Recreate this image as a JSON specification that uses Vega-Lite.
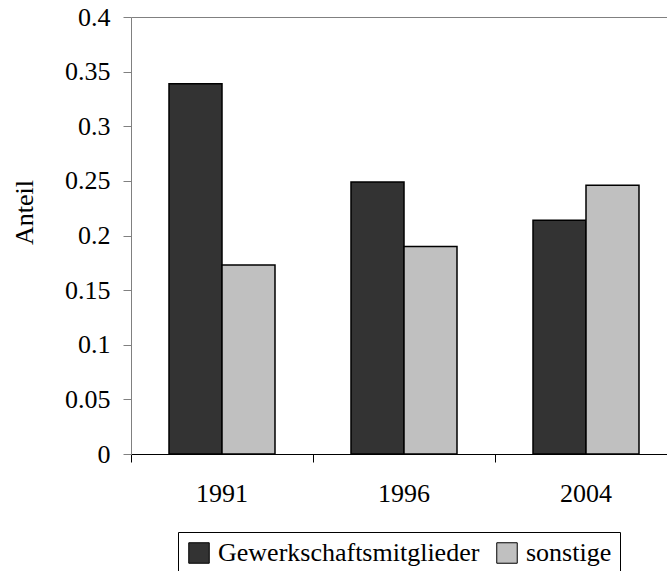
{
  "$schema": "https://vega.github.io/schema/vega-lite/v6.json",
  "width": 536,
  "height": 437,
  "autosize": {"type": "none"},
  "padding": {"left": 131, "top": 17, "right": 0, "bottom": 117},
  "background": "white",
  "config": {"view": {"stroke": null}, "font": "Liberation Serif"},
  "data": {"values": [
    {"year": "1991", "group": "Gewerkschaftsmitglieder", "value": 0.339},
    {"year": "1991", "group": "sonstige", "value": 0.173},
    {"year": "1996", "group": "Gewerkschaftsmitglieder", "value": 0.249},
    {"year": "1996", "group": "sonstige", "value": 0.19},
    {"year": "2004", "group": "Gewerkschaftsmitglieder", "value": 0.214},
    {"year": "2004", "group": "sonstige", "value": 0.246}
  ]},
  "mark": {"type": "bar", "stroke": "black", "strokeWidth": 1.5},
  "encoding": {
    "x": {
      "field": "year", "type": "nominal",
      "scale": {"range": [0, 546], "paddingInner": 0, "paddingOuter": 0},
      "axis": {"title": null, "labelAngle": 0, "bandPosition": 0,
        "labelFont": "Liberation Serif", "labelFontSize": 26, "labelColor": "black", "domainColor": "black", "tickColor": "black",
        "tickSize": 8, "labelPadding": 18, "grid": false}
    },
    "xOffset": {"field": "group", "type": "nominal", "scale": {"paddingOuter": 0.717, "paddingInner": 0}},
    "y": {
      "field": "value", "type": "quantitative",
      "scale": {"domain": [0, 0.4], "nice": false},
      "axis": {"title": "Anteil", "values": [0, 0.05, 0.1, 0.15, 0.2, 0.25, 0.3, 0.35, 0.4], "format": "~g",
        "labelFont": "Liberation Serif", "labelFontSize": 26, "labelColor": "black", "domainColor": "#808080", "tickColor": "#808080",
        "tickSize": 8, "labelPadding": 13, "grid": true, "gridColor": "#808080",
        "gridOpacity": {"condition": {"test": "datum.value >= 0.399", "value": 1}, "value": 0},
        "titleFont": "Liberation Serif", "titleFontSize": 26, "titleFontWeight": "normal", "titleColor": "black",
        "titleAngle": -90, "titleAlign": "center", "titleBaseline": "middle", "titleX": -107, "titleY": 195}
    },
    "color": {
      "field": "group", "type": "nominal",
      "scale": {"domain": ["Gewerkschaftsmitglieder", "sonstige"], "range": ["#333333", "#c0c0c0"]},
      "legend": {"orient": "none", "legendX": 47, "legendY": 515, "direction": "horizontal", "title": null,
        "strokeColor": "black", "padding": 8, "symbolType": "square", "symbolSize": 420,
        "symbolStrokeColor": "black", "symbolStrokeWidth": 1, "labelFont": "Liberation Serif", "labelFontSize": 26, "labelColor": "black",
        "labelLimit": 500, "labelOffset": 6, "columnPadding": 14}
    }
  }
}
